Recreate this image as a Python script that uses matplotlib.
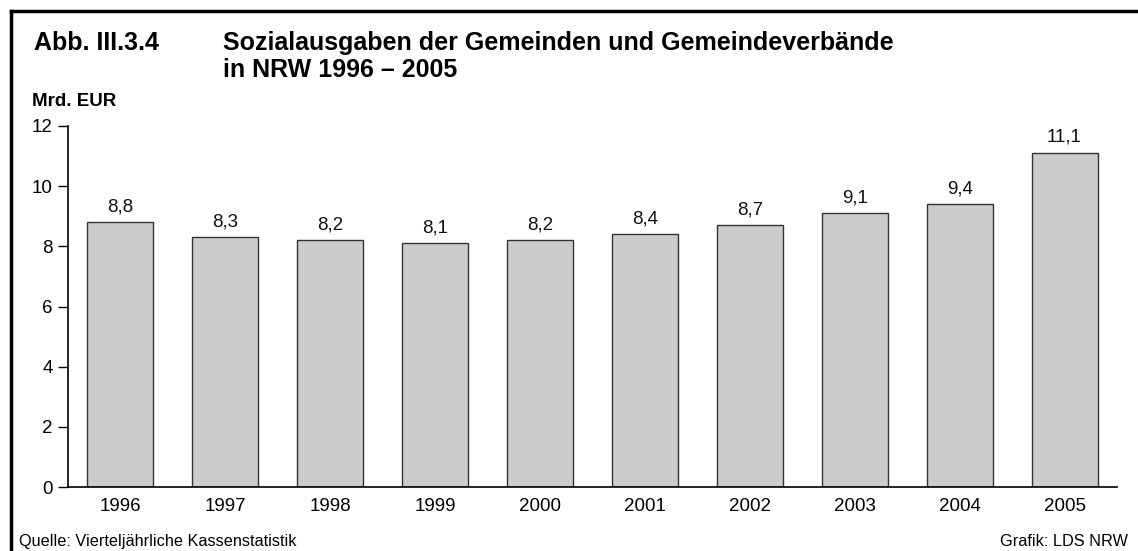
import matplotlib
matplotlib.use("Agg")
import matplotlib.pyplot as plt
from matplotlib.lines import Line2D

years = ["1996", "1997", "1998", "1999", "2000", "2001", "2002", "2003", "2004", "2005"]
values = [8.8, 8.3, 8.2, 8.1, 8.2, 8.4, 8.7, 9.1, 9.4, 11.1]
value_labels = ["8,8", "8,3", "8,2", "8,1", "8,2", "8,4", "8,7", "9,1", "9,4", "11,1"]
yticks = [0, 2, 4, 6, 8, 10, 12]

plt.rcParams['font.family'] = ['Liberation Sans', 'DejaVu Sans']

W, H = 1138, 551
fig = plt.figure(figsize=(W / 100, H / 100), dpi=100)

ax = fig.add_axes([68 / W, 1 - 487 / H, (1117 - 68) / W, (487 - 126) / H])
x = list(range(len(years)))
ax.bar(x, values, width=0.63, color="#cccccc", edgecolor="#333333", linewidth=1.0, zorder=2)
for xi, v, lab in zip(x, values, value_labels):
    ax.annotate(lab, (xi, v), xytext=(0, 8), textcoords="offset points",
                ha="center", va="baseline", fontsize=13.5, color="#111111")

ax.set_xlim(-0.5, len(years) - 0.5)
ax.set_ylim(0, 12)
ax.set_yticks(yticks)
ax.set_yticklabels([str(t) for t in yticks], fontsize=13.5)
ax.set_xticks(x)
ax.set_xticklabels(years, fontsize=13.5)
ax.tick_params(axis="x", length=0, pad=8)
ax.tick_params(axis="y", length=7, width=1, pad=4, direction="out")
for s in ["top", "right"]:
    ax.spines[s].set_visible(False)
ax.spines["left"].set_linewidth(1.2)
ax.spines["bottom"].set_linewidth(1.2)

# frame (top and left lines)
fig.add_artist(Line2D([11 / W, 1.0], [1 - 11 / H, 1 - 11 / H], transform=fig.transFigure, color="black", lw=2.5))
fig.add_artist(Line2D([11 / W, 11 / W], [0.0, 1 - 11 / H], transform=fig.transFigure, color="black", lw=2.5))

fig.text(34 / W, 1 - 50 / H, "Abb. III.3.4", fontsize=18, fontweight="bold", ha="left", va="baseline")
fig.text(223 / W, 1 - 50 / H, "Sozialausgaben der Gemeinden und Gemeindeverbände",
         fontsize=18, fontweight="bold", ha="left", va="baseline")
fig.text(223 / W, 1 - 77 / H, "in NRW 1996 – 2005",
         fontsize=18, fontweight="bold", ha="left", va="baseline")
fig.text(32 / W, 1 - 106 / H, "Mrd. EUR", fontsize=13.5, fontweight="bold", ha="left", va="baseline")
fig.text(19 / W, 1 - 546 / H, "Quelle: Vierteljährliche Kassenstatistik", fontsize=11.7, ha="left", va="baseline")
fig.text(1128 / W, 1 - 546 / H, "Grafik: LDS NRW", fontsize=11.7, ha="right", va="baseline")

fig.savefig("out.png", dpi=100)
